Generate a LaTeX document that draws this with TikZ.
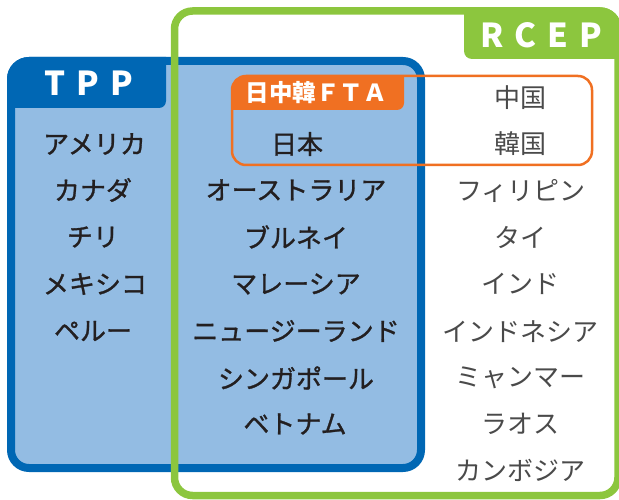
\documentclass[tikz,border=0pt]{standalone}
\usepackage{fontspec}
\setmainfont{Noto Sans CJK JP}
\newfontfamily\jpmed{Noto Sans CJK JP}[FakeBold=1.1]
\definecolor{tppblue}{HTML}{0067B4}
\definecolor{tppfill}{HTML}{93BCE3}
\definecolor{rcepgreen}{HTML}{8CC63E}
\definecolor{ftaorange}{HTML}{F07022}
\definecolor{txtdark}{HTML}{231F20}
\definecolor{txtlight}{HTML}{4A4A4A}
\begin{document}
\begin{tikzpicture}[x=1pt,y=-1pt,
  darktext/.style={font=\fontsize{26}{26}\jpmed, text=txtdark, inner sep=0pt, anchor=center},
  lighttext/.style={font=\fontsize{26}{26}\selectfont, text=txtlight, inner sep=0pt, anchor=center},
  bigtab/.style={font=\fontsize{33}{33}\selectfont\bfseries, text=white, inner sep=0pt, anchor=center},
  smalltab/.style={font=\fontsize{23.5}{23.5}\selectfont\bfseries, text=white, inner sep=0pt, anchor=center}]
\useasboundingbox (0,0) rectangle (619,500);
% TPP box
\fill[tppfill, rounded corners=18] (11,61) rectangle (421,468);
\begin{scope}
  \clip[rounded corners=22] (7,57) rectangle (425,472);
  \fill[tppblue, rounded corners=7] (0,40) rectangle (166,108);
\end{scope}
\draw[tppblue, line width=8pt, rounded corners=18] (11,61) rectangle (421,468);
% FTA box
\begin{scope}
  \clip[rounded corners=14] (232,76) rectangle (592,165);
  \fill[ftaorange, rounded corners=7] (220,60) rectangle (404,110);
\end{scope}
\draw[ftaorange, line width=2.5pt, rounded corners=14] (232,76) rectangle (592,165);
% RCEP box
\begin{scope}
  \clip[rounded corners=22] (170.75,7.25) rectangle (621.75,499.25);
  \fill[rcepgreen, rounded corners=8] (464,0) rectangle (640,59);
\end{scope}
\draw[rcepgreen, line width=7.5pt, rounded corners=18] (174.5,11) rectangle (618,495.5);
% tab labels
\node[bigtab] (tpp) at (89,83) {T\hspace{11pt}P\hspace{11pt}P};
\node[bigtab] (rcep) at (541,35) {R\hspace{11pt}C\hspace{11pt}E\hspace{11pt}P};
\node[smalltab] (fta) at (316,92.5) {日中韓ＦＴＡ};
% TPP only
\node[darktext] (usa) at (94.5,144) {アメリカ};
\node[darktext] (can) at (93,190) {カナダ};
\node[darktext] (chl) at (93,237) {チリ};
\node[darktext] (mex) at (95,284) {メキシコ};
\node[darktext] (per) at (93,331) {ペルー};
% TPP and RCEP
\node[darktext] (jpn) at (297,144) {日本};
\node[darktext] (aus) at (296,190) {オーストラリア};
\node[darktext] (brn) at (296,237) {ブルネイ};
\node[darktext] (mys) at (296,284) {マレーシア};
\node[darktext] (nzl) at (296,331) {ニュージーランド};
\node[darktext] (sgp) at (296,378) {シンガポール};
\node[darktext] (vnm) at (295,424) {ベトナム};
% RCEP only
\node[lighttext] (chn) at (520,97.5) {中国};
\node[lighttext] (kor) at (520,143.5) {韓国};
\node[lighttext] (phl) at (521,191) {フィリピン};
\node[lighttext] (tha) at (520,237) {タイ};
\node[lighttext] (ind) at (520,284) {インド};
\node[lighttext] (idn) at (520,332) {インドネシア};
\node[lighttext] (mmr) at (520,378) {ミャンマー};
\node[lighttext] (lao) at (520,424) {ラオス};
\node[lighttext] (khm) at (520,470) {カンボジア};
\end{tikzpicture}
\end{document}
